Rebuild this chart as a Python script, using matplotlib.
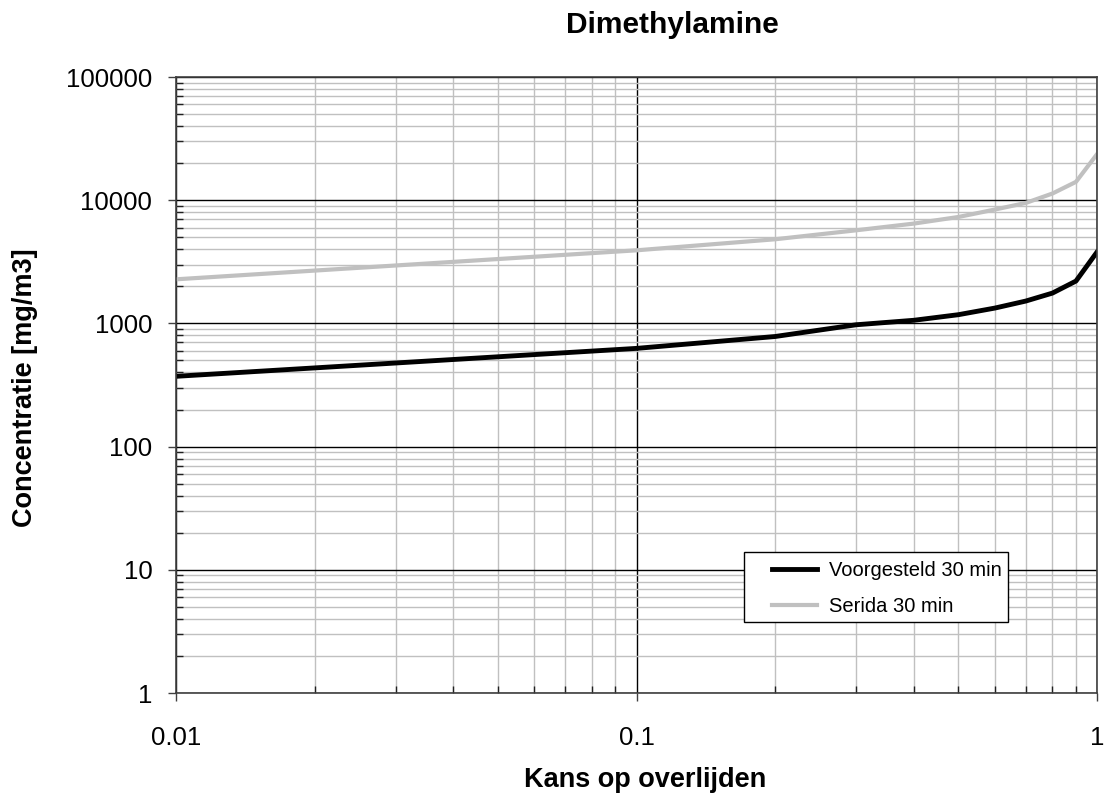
import matplotlib
matplotlib.use("Agg")
import matplotlib.pyplot as plt
from matplotlib.patches import Rectangle
from matplotlib.ticker import LogLocator, FixedLocator, NullFormatter, FixedFormatter

plt.rcParams['font.family'] = ['Liberation Sans', 'DejaVu Sans']

kans = [0.01, 0.1, 0.2, 0.3, 0.4, 0.5, 0.6, 0.7, 0.8, 0.9, 1.0]
voorgesteld = [372, 627, 783, 975, 1060, 1177, 1332, 1518, 1762, 2207, 3800]
serida = [2280, 3920, 4820, 5700, 6460, 7310, 8400, 9500, 11330, 14090, 23660]

x_ticks = [0.01, 0.1, 1]
x_labels = ["0.01", "0.1", "1"]
y_ticks = [1, 10, 100, 1000, 10000, 100000]
y_labels = ["1", "10", "100", "1000", "10000", "100000"]

fig = plt.figure(figsize=(11.06, 7.94), dpi=100)
ax = fig.add_axes([0.1591, 0.1272, 0.8328, 0.7758])

ax.set_xscale('log')
ax.set_yscale('log')
ax.set_xlim(0.01, 1)
ax.set_ylim(1, 100000)

ax.xaxis.set_major_locator(FixedLocator(x_ticks))
ax.xaxis.set_major_formatter(FixedFormatter(x_labels))
ax.yaxis.set_major_locator(FixedLocator(y_ticks))
ax.yaxis.set_major_formatter(FixedFormatter(y_labels))
ax.xaxis.set_minor_locator(LogLocator(base=10, subs=range(2, 10)))
ax.yaxis.set_minor_locator(LogLocator(base=10, subs=range(2, 10)))
ax.xaxis.set_minor_formatter(NullFormatter())
ax.yaxis.set_minor_formatter(NullFormatter())

ax.grid(which='minor', color='#c0c0c0', linewidth=1.0)
ax.grid(which='major', color='#000000', linewidth=1.0)
ax.set_axisbelow(True)

ax.tick_params(which='major', direction='out', length=6, width=1, labelsize=18.5, color='#404040')
ax.tick_params(axis='y', which='major', pad=11)
ax.tick_params(axis='x', which='major', pad=18)
ax.tick_params(which='minor', direction='in', length=5, width=1, color='#202020')
for s in ax.spines.values():
    s.set_color('#404040')
    s.set_linewidth(1.2)

ax.plot(kans, voorgesteld, color='black', linewidth=3.5, label='Voorgesteld 30 min')
ax.plot(kans, serida, color='#c0c0c0', linewidth=3, label='Serida 30 min')

fig.text(0.6076, 0.958, 'Dimethylamine', fontsize=21.5, fontweight='bold', ha='center', va='baseline')
fig.text(0.583, 0.009, 'Kans op overlijden', fontsize=19.5, fontweight='bold', ha='center', va='baseline')
fig.text(0.0226, 0.512, 'Concentratie [mg/m3]', fontsize=19.5, fontweight='bold', ha='center', va='center',
         rotation=90)

# legend frame drawn separately so the padding can match
ax.add_patch(Rectangle((0.617, 0.1153), 0.2866, 0.1136, transform=ax.transAxes, facecolor='white',
                       edgecolor='black', linewidth=1.0, zorder=4))
leg = ax.legend(loc='upper left', bbox_to_anchor=(0.6475, 0.215), frameon=False, fontsize=14.5,
                handlelength=2.2, handletextpad=0.6, borderpad=0, borderaxespad=0, labelspacing=0.85)
leg.set_zorder(5)

fig.savefig('out.png', dpi=100)
